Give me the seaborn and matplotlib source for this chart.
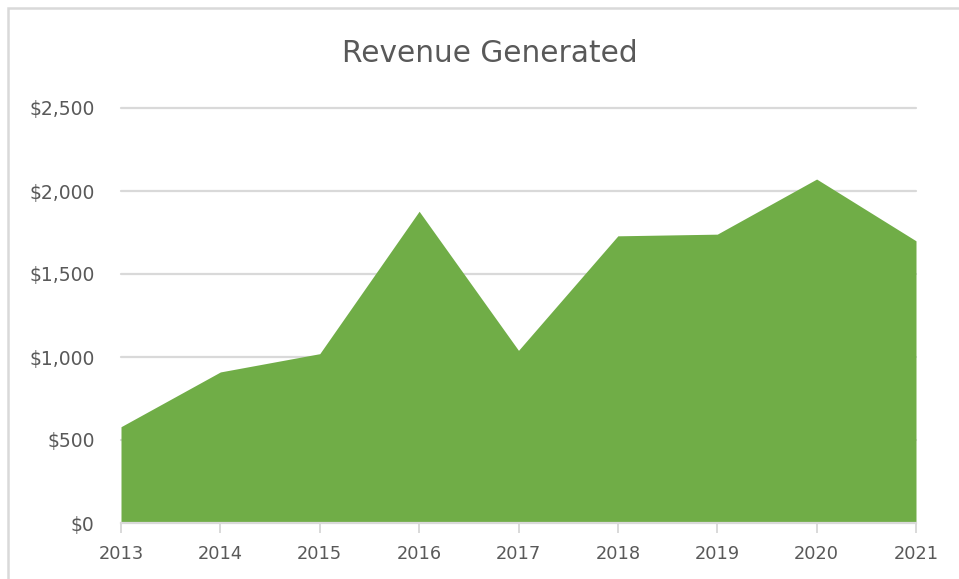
import matplotlib
matplotlib.use("Agg")
import matplotlib.pyplot as plt
import seaborn as sns
import pandas as pd
from matplotlib.patches import Rectangle
from matplotlib.ticker import FuncFormatter

years = [2013, 2014, 2015, 2016, 2017, 2018, 2019, 2020, 2021]
revenue = [580, 910, 1020, 1878, 1040, 1730, 1740, 2072, 1700]
y_ticks = [0, 500, 1000, 1500, 2000, 2500]
title = "Revenue Generated"

df = pd.DataFrame({"Year": years, "Revenue": revenue})

sns.set_theme(style="white")
plt.rcParams["font.family"] = ["DejaVu Sans"]

green = "#70AD47"
grid_c = "#D9D9D9"
text_c = "#595959"

fig = plt.figure(figsize=(9.59, 5.79), dpi=100)
ax = fig.add_axes([121/959, 1 - 523/579, (916-121)/959, (523-108)/579])

sns.lineplot(data=df, x="Year", y="Revenue", ax=ax, color=green, linewidth=0)
ax.fill_between(df["Year"], 0, df["Revenue"], color=green, linewidth=0, zorder=2)

ax.set_xlim(years[0], years[-1])
ax.set_ylim(0, 2500)
ax.set_yticks(y_ticks)
ax.set_xticks(years)
ax.yaxis.set_major_formatter(FuncFormatter(lambda v, p: f"${int(v):,}"))
ax.set_xlabel("")
ax.set_ylabel("")

for v in y_ticks[1:]:
    ax.axhline(v, color=grid_c, linewidth=1.6, zorder=1, clip_on=False)

for s in ["top", "right", "left"]:
    ax.spines[s].set_visible(False)
ax.spines["bottom"].set_color(grid_c)
ax.spines["bottom"].set_linewidth(1.6)
ax.spines["bottom"].set_zorder(3)

ax.tick_params(axis="x", colors=text_c, labelsize=12.8, length=7, width=1.4,
               color=grid_c, pad=9, bottom=True, direction="out")
ax.tick_params(axis="y", colors=text_c, labelsize=13.5, length=0, pad=19, left=False)
for lbl in ax.get_xticklabels() + ax.get_yticklabels():
    lbl.set_color(text_c)

fig.text(490/959, 1 - 53/579, title, ha="center", va="center",
         fontsize=21.3, color=text_c)

fig.patches.append(Rectangle((8/959, -0.1), 1.2, 1 - 8/579 + 0.1,
                             transform=fig.transFigure, fill=False,
                             edgecolor=grid_c, linewidth=1.8, zorder=0))

fig.savefig("out.png", dpi=100)
